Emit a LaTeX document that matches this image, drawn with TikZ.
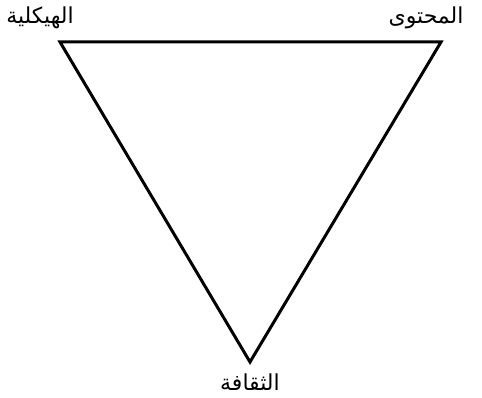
\documentclass[tikz,border=0pt]{standalone}
\usepackage{fontspec}
\TeXXeTstate=1
\newfontfamily\arabicfont[Script=Arabic]{DejaVu Sans}
\tikzset{lbl/.style={font=\arabicfont\fontsize{22}{25}\selectfont, inner sep=0pt, anchor=center},
edge/.style={line width=3pt, line join=miter}}
\begin{document}
\begin{tikzpicture}[x=1pt,y=-1pt]
\useasboundingbox (0,0) rectangle (482,398);
\coordinate (tl) at (60,42);
\coordinate (tr) at (441,42);
\coordinate (b) at (250,362);
\draw[edge] (tl) -- (tr) -- (b) -- cycle;
\node[lbl] (l1) at (40,18) {\beginR الهيكلية\endR};
\node[lbl] (l2) at (426,18) {\beginR المحتوى\endR};
\node[lbl] (l3) at (250,382) {\beginR الثقافة\endR};
\end{tikzpicture}
\end{document}
